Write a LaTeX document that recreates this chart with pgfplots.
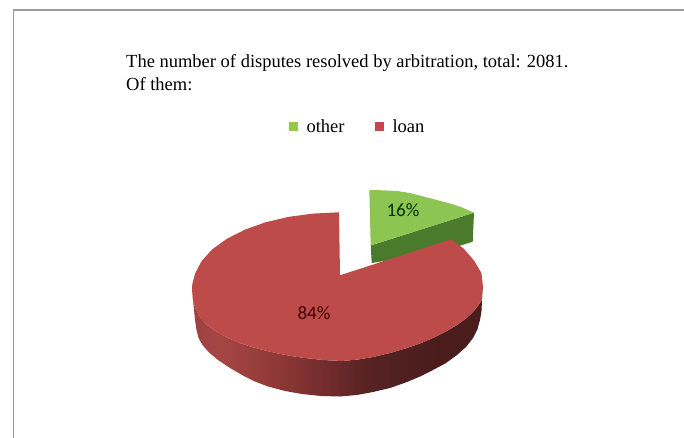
\documentclass[border=0pt]{standalone}
\usepackage{fontspec}
\setmainfont{Liberation Serif}
\newfontfamily\labelfont{Carlito}
\usepackage{pgfplots}
\pgfplotsset{compat=1.18}
\definecolor{greentop}{HTML}{8CC552}
\definecolor{greenwall}{HTML}{4A7A2C}
\definecolor{redtop}{HTML}{BD4B49}
\definecolor{greenkey}{HTML}{96C84E}
\definecolor{redkey}{HTML}{C8454B}
\definecolor{frameline}{HTML}{9C9C9C}
\definecolor{wallA}{HTML}{9C4140}
\definecolor{wallB}{HTML}{A54644}
\definecolor{wallC}{HTML}{983F3D}
\definecolor{wallD}{HTML}{893634}
\definecolor{wallE}{HTML}{772E2E}
\definecolor{wallF}{HTML}{682828}
\definecolor{wallG}{HTML}{552222}
\definecolor{wallH}{HTML}{4F1F1F}
\definecolor{wallI}{HTML}{4A1C1C}
% side wall of the large slice: lit on the left, falling to dark on the right
\pgfdeclarehorizontalshading{wallshade}{100bp}{
  color(0bp)=(wallA);
  color(25bp)=(wallA);
  color(29.5bp)=(wallB);
  color(35.3bp)=(wallC);
  color(41bp)=(wallD);
  color(46.6bp)=(wallE);
  color(50.8bp)=(wallF);
  color(56.1bp)=(wallG);
  color(62bp)=(wallH);
  color(67.6bp)=(wallI);
  color(100bp)=(wallI)}
\begin{document}
\begin{tikzpicture}
\begin{axis}[
  at={(0,0)}, anchor=south west,
  scale only axis, width=684pt, height=438pt,
  xmin=0, xmax=684, ymin=0, ymax=438, y dir=reverse,
  hide axis, clip=true, no markers,
  legend style={at={(axis cs:288.5,127)}, anchor=west, draw=none, fill=none,
    legend columns=2, font=\fontsize{18.5}{18.5}\selectfont,
    inner sep=0pt, outer sep=0pt,
    /tikz/every even column/.style={column sep=26.5pt},
    nodes={inner sep=0pt, inner xsep=3.5pt}},
  legend image code/.code={
    \fill[#1, draw=none] (0pt,-4.5pt) rectangle (9pt,4.5pt);
    \path[draw=none, fill=none] (9pt,0pt) -- (14.5pt,0pt);},
]
% outer frame
\addplot[frameline, line width=1.5pt, forget plot] coordinates {(684,10) (13.5,10) (13.5,438)};

% "other" slice, pulled out from the pie
\addplot[draw=none, fill=greenwall, forget plot] coordinates {
  (370.7,245.5) (474,212.7) (472.7,241.7) (440,252) (371.7,263)} -- cycle;
\addplot[draw=none, fill=greentop, forget plot] coordinates {
  (369.3,190) (383,190.3) (396.7,191) (410,193) (423.3,196.5) (437,200)
  (450,203.5) (462,207.5) (474,212.7) (370.7,245.5)} -- cycle;
\addlegendimage{fill=greenkey}
\addlegendentry{other}

% "loan" slice: wall first, then the top face
\addplot[draw=none, shading=wallshade, forget plot] coordinates {
  (192,290) (193,300) (195.5,309) (200.5,318) (207.5,325.5) (217,332) (228,338) (240,343)
  (252,347) (265,350.5) (278,353.5) (291,356) (305,358) (323,360) (342,361)
  (358,359.5) (373,357) (390,353) (407,348) (420,343.5) (433,338) (446,331.5)
  (457,325) (466,318.5) (473,312) (478,306) (482,300)
  (481.5,311) (480,320) (477.5,329) (473,338) (466,347) (457,355) (446,363)
  (433,370) (420,376.5) (407,382) (390,388) (373,392) (357,395) (340,396.5)
  (321,396) (302,394) (285,391) (268,386.5) (255,381.5) (242,375) (230,368)
  (218,360) (209,352.5) (202.5,345) (198.5,338) (196.5,330) (195,320) (193.5,305)} -- cycle;
\addplot[draw=none, fill=redtop, forget plot] coordinates {
  (340,275.3) (339,212.3) (312.8,213.6) (288.4,216.9) (265.5,222.3) (244.8,229.7)
  (226.9,238.8) (212.4,249.2) (201.7,260.9) (195.2,273.2) (192.3,284) (192,290)
  (193,300) (195.5,309) (200.5,318) (207.5,325.5) (217,332) (228,338) (240,343) (252,347)
  (265,350.5) (278,353.5) (291,356) (305,358) (323,360) (342,361) (358,359.5)
  (373,357) (390,353) (407,348) (420,343.5) (433,338) (446,331.5) (457,325)
  (466,318.5) (473,312) (478,306) (482,300) (483,287) (481.5,273.2)
  (474.3,260.9) (463.6,248.5) (451,239.3)} -- cycle;
\addlegendimage{fill=redkey}
\addlegendentry{loan}

% heading and slice labels
\node[anchor=west, align=left, inner sep=0pt, font=\fontsize{18.5}{23}\selectfont]
  at (axis cs:126,73) {The number of disputes resolved by arbitration, total: 2081.\\Of them:};
\node[font=\labelfont\fontsize{19}{19}\selectfont, text=black!80!green] at (axis cs:403,210) {16\%};
\node[font=\labelfont\fontsize{19}{19}\selectfont, text=black!75!red] at (axis cs:314,313) {84\%};
\end{axis}
\path[use as bounding box] (0,0) rectangle (684pt,438pt);
\end{tikzpicture}
\end{document}
